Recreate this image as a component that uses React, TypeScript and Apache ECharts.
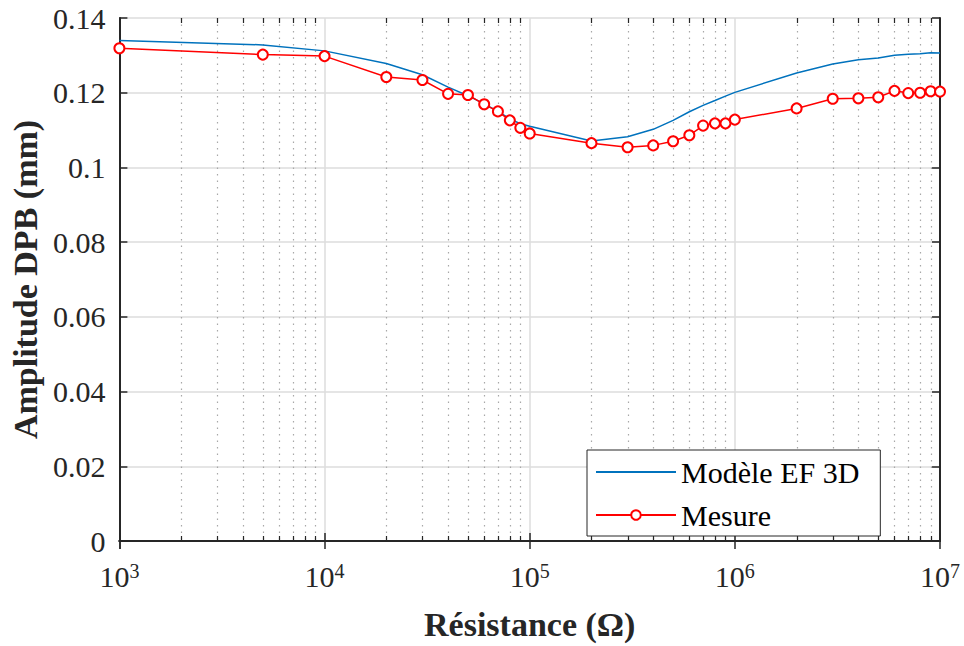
import React, { useEffect, useRef } from "react";
import * as echarts from "echarts";

const resistance = [
  1e3, 5e3, 1e4, 2e4, 3e4, 4e4, 5e4, 6e4, 7e4, 8e4, 9e4, 1e5, 2e5, 3e5, 4e5, 5e5, 6e5, 7e5, 8e5, 9e5,
  1e6, 2e6, 3e6, 4e6, 5e6, 6e6, 7e6, 8e6, 9e6, 1e7,
];
const modelValues = [
  0.134, 0.1328, 0.1312, 0.1278, 0.1248, 0.1215, 0.1192, 0.117, 0.115, 0.113, 0.1117, 0.111, 0.1071,
  0.1082, 0.1102, 0.1126, 0.1149, 0.1166, 0.1179, 0.1191, 0.1201, 0.1253, 0.1277, 0.1288, 0.1293,
  0.13, 0.1303, 0.1304, 0.1307, 0.1306,
];
const measureValues = [
  0.1319, 0.1302, 0.1298, 0.1242, 0.1234, 0.1197, 0.1194, 0.1169, 0.115, 0.1126, 0.1106, 0.1091,
  0.1065, 0.1054, 0.1059, 0.107, 0.1086, 0.1112, 0.1118, 0.1118, 0.1128, 0.1158, 0.1184, 0.1185,
  0.1188, 0.1205, 0.1199, 0.12, 0.1204, 0.1203,
];
const minorTicks = [
  2e3, 3e3, 4e3, 5e3, 6e3, 7e3, 8e3, 9e3, 2e4, 3e4, 4e4, 5e4, 6e4, 7e4, 8e4, 9e4, 2e5, 3e5, 4e5, 5e5,
  6e5, 7e5, 8e5, 9e5, 2e6, 3e6, 4e6, 5e6, 6e6, 7e6, 8e6, 9e6,
];
const seriesNames = ["Modèle EF 3D", "Mesure"];
const xTitle = "Résistance (Ω)";
const yTitle = "Amplitude DPB (mm)";

const FONT = "Liberation Serif";

export default function App() {
  const ref = useRef<HTMLDivElement>(null);
  useEffect(() => {
    document.body.style.margin = "0";
    const chart = echarts.init(ref.current!, null, { renderer: "svg" });
    const axisColor = "#262626";
    const option: any = {
      animation: false,
      backgroundColor: "#ffffff",
      textStyle: { fontFamily: FONT },
      grid: { left: 119, right: 24, top: 18, bottom: 102, containLabel: false },
      legend: {
        data: [
          { name: seriesNames[0], itemStyle: { opacity: 0 } },
          { name: seriesNames[1] },
        ],
        orient: "vertical",
        left: 587,
        top: 450,
        itemWidth: 80,
        itemHeight: 12,
        itemGap: 13,
        padding: [7, 21, 6, 8],
        borderColor: axisColor,
        borderWidth: 1,
        backgroundColor: "#ffffff",
        textStyle: { fontFamily: FONT, fontSize: 30, color: "#000" },
      },
      xAxis: [
        {
          type: "log",
          logBase: 10,
          min: 1e3,
          max: 1e7,
          name: xTitle,
          nameLocation: "middle",
          nameGap: 66,
          nameTextStyle: { fontFamily: FONT, fontSize: 34, fontWeight: "bold", color: "#262626" },
          axisLine: { show: true, lineStyle: { color: axisColor, width: 2 } },
          axisTick: { show: true, inside: true, length: 8, lineStyle: { color: axisColor, width: 1.5 } },
          axisLabel: {
            margin: 20,
            fontFamily: FONT,
            formatter: (v: number) => `{b|10}{s|${Math.round(Math.log10(v))}}`,
            rich: {
              b: { fontFamily: FONT, fontSize: 30, color: "#262626", lineHeight: 30 },
              s: { fontFamily: FONT, fontSize: 20, color: "#262626", verticalAlign: "top", lineHeight: 20 },
            },
          },
          splitLine: { show: true, lineStyle: { color: "#dcdcdc", width: 1.5 } },
          minorTick: { show: false },
        },
        {
          type: "log",
          logBase: 10,
          min: 1e3,
          max: 1e7,
          position: "top",
          axisLine: { show: true, lineStyle: { color: axisColor, width: 2 } },
          axisTick: { show: true, inside: true, length: 8, lineStyle: { color: axisColor, width: 1.5 } },
          axisLabel: { show: false },
          splitLine: { show: false },
        },
      ],
      yAxis: [
        {
          type: "value",
          min: 0,
          max: 0.14,
          interval: 0.02,
          name: yTitle,
          nameLocation: "middle",
          nameGap: 74,
          nameRotate: 90,
          nameTextStyle: { fontFamily: FONT, fontSize: 34, fontWeight: "bold", color: "#262626" },
          axisLine: { show: true, lineStyle: { color: axisColor, width: 2 } },
          axisTick: { show: true, inside: true, length: 8, lineStyle: { color: axisColor, width: 1.5 } },
          axisLabel: {
            margin: 14,
            fontFamily: FONT,
            fontSize: 30,
            color: "#262626",
            formatter: (v: number) => String(parseFloat(v.toFixed(2))),
          },
          splitLine: { show: true, lineStyle: { color: "#dcdcdc", width: 1.5 } },
        },
        {
          type: "value",
          min: 0,
          max: 0.14,
          interval: 0.02,
          position: "right",
          axisLine: { show: true, lineStyle: { color: axisColor, width: 2 } },
          axisTick: { show: true, inside: true, length: 8, lineStyle: { color: axisColor, width: 1.5 } },
          axisLabel: { show: false },
          splitLine: { show: false },
        },
      ],
      series: [
        {
          type: "custom",
          name: "minor",
          xAxisIndex: 0,
          yAxisIndex: 0,
          silent: true,
          z: 1,
          clip: false,
          data: minorTicks.map((v) => [v, 0]),
          encode: { x: 0, y: 1 },
          renderItem: (params: any, api: any) => {
            const cs = params.coordSys;
            const x = Math.round(api.coord([api.value(0), 0])[0]) + 0.5;
            const top = cs.y;
            const bottom = cs.y + cs.height;
            return {
              type: "group",
              children: [
                {
                  type: "line",
                  shape: { x1: x, y1: top, x2: x, y2: bottom },
                  style: { stroke: "#a8a8a8", lineWidth: 1.2, lineDash: [1.5, 5] },
                },
                {
                  type: "line",
                  shape: { x1: x, y1: bottom, x2: x, y2: bottom - 5 },
                  style: { stroke: axisColor, lineWidth: 1.2 },
                },
                {
                  type: "line",
                  shape: { x1: x, y1: top, x2: x, y2: top + 5 },
                  style: { stroke: axisColor, lineWidth: 1.2 },
                },
              ],
            };
          },
        },
        {
          type: "line",
          name: seriesNames[0],
          data: resistance.map((r, i) => [r, modelValues[i]]),
          symbol: "none",
          z: 3,
          lineStyle: { color: "#0072BD", width: 1.5 },
          itemStyle: { color: "#0072BD" },
        },
        {
          type: "line",
          name: seriesNames[1],
          data: resistance.map((r, i) => [r, measureValues[i]]),
          symbol: "emptyCircle",
          symbolSize: 10,
          z: 4,
          lineStyle: { color: "#ff0000", width: 1.5 },
          itemStyle: { color: "#ff0000", borderColor: "#ff0000", borderWidth: 2 },
        },
      ],
    };
    chart.setOption(option);
    return () => chart.dispose();
  }, []);
  return <div ref={ref} style={{ width: 964, height: 646 }} />;
}
